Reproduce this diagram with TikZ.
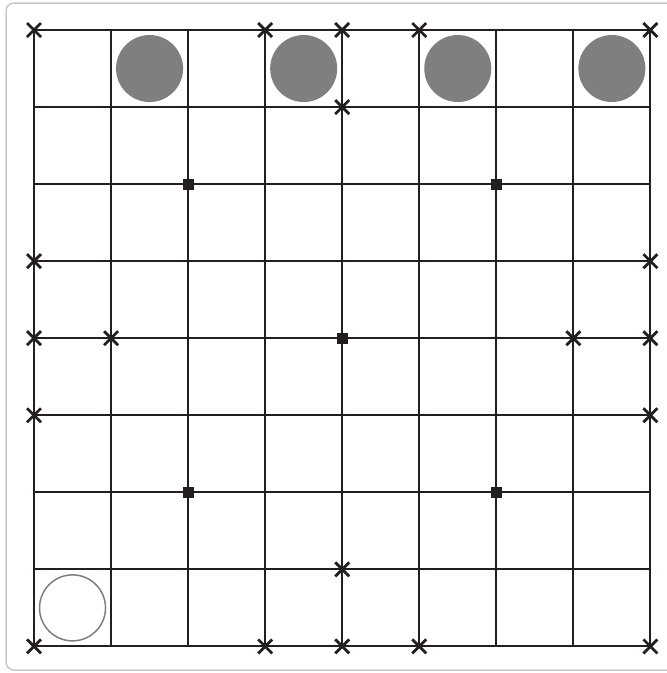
\documentclass[tikz,border=0pt]{standalone}
\usetikzlibrary{calc}
\definecolor{ink}{HTML}{231F20}
\definecolor{stone}{HTML}{7F7F82}
\definecolor{framec}{HTML}{C8C8C8}
\begin{document}
\begin{tikzpicture}[x=1pt,y=-1pt,
  gridline/.style={ink,line width=2pt},
  crossmark/.style={ink,line width=2.8pt},
  filledstone/.style={fill=stone,draw=none},
  openstone/.style={draw=stone,line width=1.5pt,fill=white},
  pt/.style={fill=ink}]
\useasboundingbox (0,0) rectangle (667,673);
\draw[framec,line width=1.5pt,rounded corners=8pt] (6,3) rectangle (690,670);
\def\ox{34}\def\oy{30}\def\cs{77.05}
% grid
\foreach \i in {0,...,8}{
  \draw[gridline] ({\ox+\i*\cs},\oy) -- ({\ox+\i*\cs},{\oy+8*\cs});
  \draw[gridline] (\ox,{\oy+\i*\cs}) -- ({\ox+8*\cs},{\oy+\i*\cs});
}
% stones
\foreach \c in {1,3,5,7}{
  \fill[filledstone] ({\ox+(\c+0.5)*\cs},{\oy+0.5*\cs}) circle (33.5);
}
\draw[openstone] ({\ox+0.5*\cs},{\oy+7.5*\cs}) circle (33);
% squares
\foreach \c/\r in {2/2,6/2,4/4,2/6,6/6}{
  \fill[pt] ({\ox+\c*\cs-5.5},{\oy+\r*\cs-5.5}) rectangle ++(11,11);
}
% crosses
\foreach \c/\r in {0/0,3/0,4/0,5/0,8/0,4/1,0/3,8/3,0/4,1/4,7/4,8/4,0/5,8/5,4/7,0/8,3/8,4/8,5/8,8/8}{
  \draw[crossmark] ({\ox+\c*\cs-7},{\oy+\r*\cs-7}) -- ++(14,14)
                   ({\ox+\c*\cs-7},{\oy+\r*\cs+7}) -- ++(14,-14);
}
\end{tikzpicture}
\end{document}
